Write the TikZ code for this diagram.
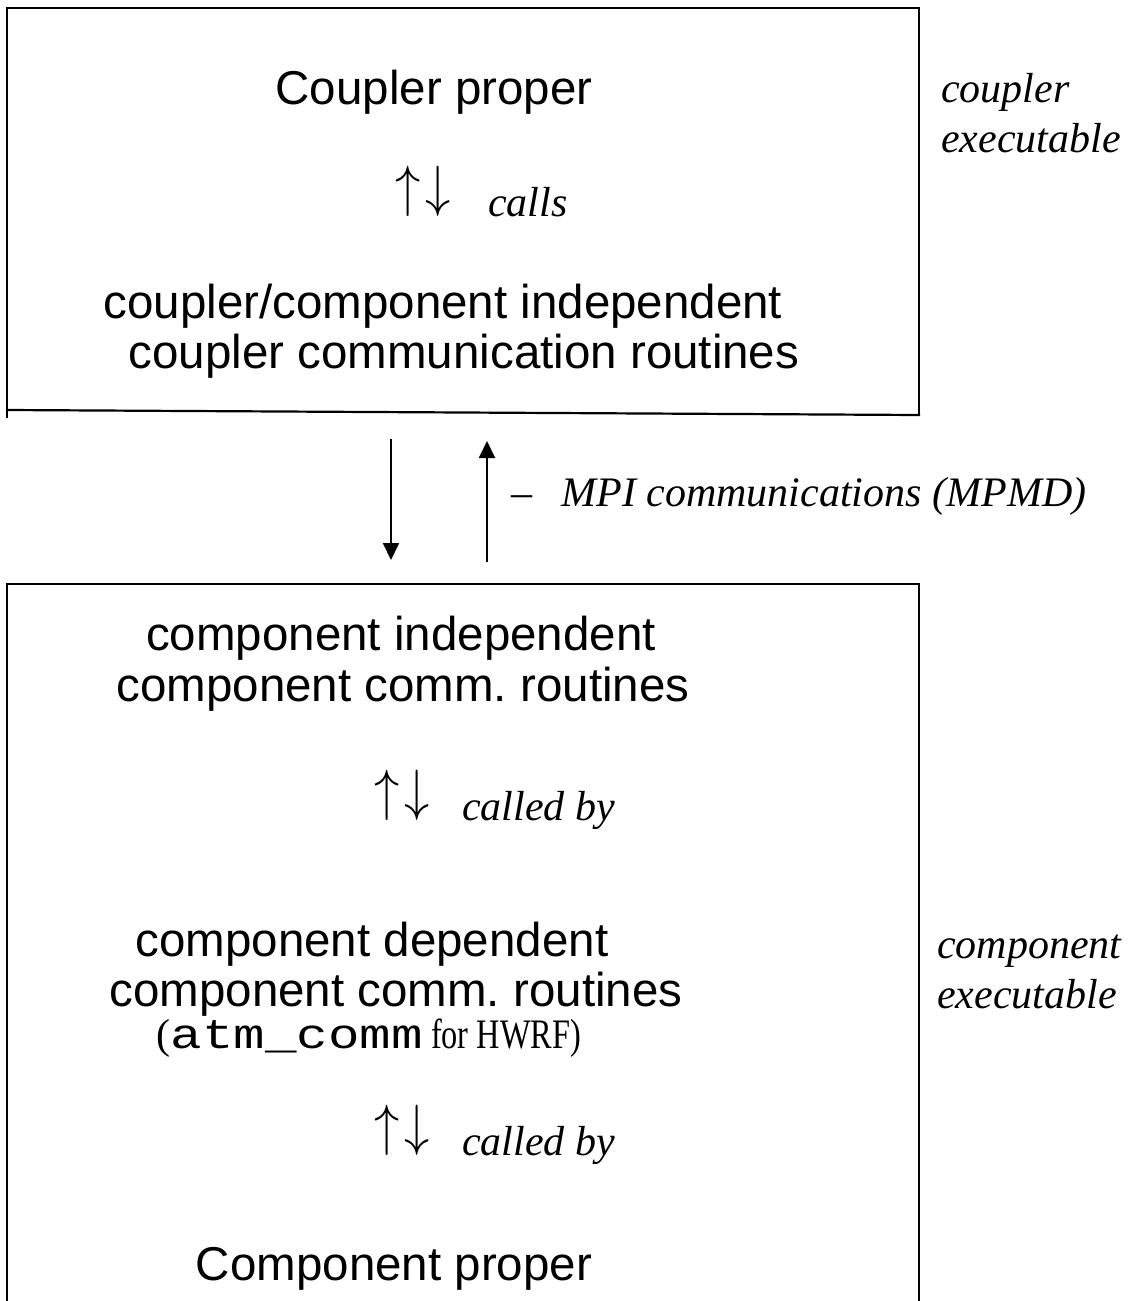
\RequirePackage{fix-cm}
\documentclass[tikz,border=0pt]{standalone}
\usepackage{fontspec}
\setmainfont{Liberation Serif}
\setsansfont{Liberation Sans}
\setmonofont{Liberation Mono}
\usetikzlibrary{arrows.meta}
\frenchspacing

% pair of tall arrows standing on the baseline
\newcommand{\updnarrows}{\raisebox{11pt}{\scalebox{1.2}[1.35]{$\uparrow\mkern2mu\downarrow$}}}

\begin{document}
\begin{tikzpicture}[x=1pt,y=-1pt,
  frame/.style={line width=2.2pt, line cap=rect},
  blocktext/.style={font=\sffamily\fontsize{47.5}{52}\selectfont, inner sep=0pt, anchor=base},
  sidenote/.style={font=\rmfamily\itshape\fontsize{42}{50}\selectfont, inner sep=0pt, anchor=base west, align=left},
  callnote/.style={font=\rmfamily\fontsize{42}{48}\selectfont, inner sep=0pt, anchor=base west},
  link/.style={line width=2pt, -{Triangle[length=17pt,width=16pt]}},
]
\useasboundingbox (0,0) rectangle (1133,1301);

% coupler executable frame
\draw[frame] (7,417) -- (7,8) -- (919,8) -- (919,415);
\draw[frame] (7,410) -- (919,415);

% component executable frame (open at the bottom)
\draw[frame] (7,1305) -- (7,584) -- (919,584) -- (919,1305);

% coupler side
\node[blocktext] (cplproper) at (434,104) {Coupler proper};
\node[callnote] (calls) at (395,216) {\updnarrows\hspace{37pt}\textit{calls}};
\node[blocktext] (cplcomm1) at (443,318) {coupler/component independent};
\node[blocktext] (cplcomm2) at (464,368) {coupler communication routines};
\node[sidenote] (cplexe) at (941,152) {coupler\\executable};

% MPI links between the executables
\coordinate (dnA) at (391,439);
\coordinate (dnB) at (391,560);
\coordinate (upA) at (487,562);
\coordinate (upB) at (487,441);
\draw[link] (dnA) -- (dnB);
\draw[link] (upA) -- (upB);
\node[callnote] (mpi) at (511,506) {\textendash\hspace{0.7em}\textit{MPI communications (MPMD)}};

% component side
\node[blocktext] (ciA) at (401,650) {component independent};
\node[blocktext] (ciB) at (403,701) {component comm. routines};
\node[callnote] (calledA) at (374,820) {\updnarrows\hspace{32pt}\textit{called by}};
\node[blocktext] (cdA) at (372,956) {component dependent};
\node[blocktext] (cdB) at (396,1006) {component comm. routines};
\node[callnote, anchor=base] (hwrf) at (369,1048)
  {(\scalebox{1.25}[1]{\texttt{atm\_comm}}\scalebox{0.77}[1]{ for HWRF)}};
\node[callnote] (calledB) at (374,1155) {\updnarrows\hspace{32pt}\textit{called by}};
\node[blocktext] (cmpproper) at (394,1280) {Component proper};
\node[sidenote] (cmpexe) at (937,1008) {component\\executable};
\end{tikzpicture}
\end{document}
